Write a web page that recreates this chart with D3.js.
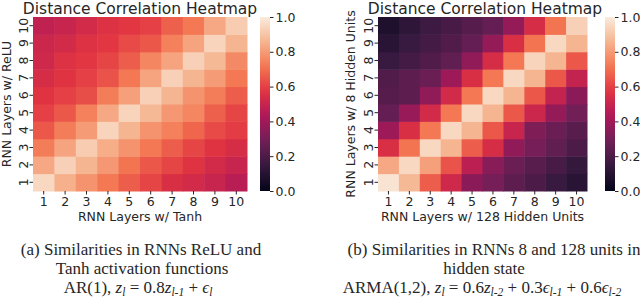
<!DOCTYPE html>
<html>
<head>
<meta charset="utf-8">
<script src="https://cdn.jsdelivr.net/npm/d3@7"></script>
<style>
  body { margin: 0; background: #fff; }
  svg { display: block; }
  text { fill: #262626; }
</style>
</head>
<body>
<div id="chart"></div>
<script>
// layer labels on both axes
var layers = ["1", "2", "3", "4", "5", "6", "7", "8", "9", "10"];
var cbarTicks = [0, 0.2, 0.4, 0.6, 0.8, 1.0];

// (a) rows = ReLU layer 1..10 (bottom to top), cols = Tanh layer 1..10
var reluTanh = [
  [0.95, 0.85, 0.78, 0.72, 0.66, 0.61, 0.55, 0.53, 0.50, 0.46],
  [0.83, 0.93, 0.86, 0.79, 0.71, 0.65, 0.61, 0.57, 0.53, 0.50],
  [0.73, 0.82, 0.92, 0.84, 0.78, 0.72, 0.66, 0.61, 0.57, 0.54],
  [0.65, 0.73, 0.80, 0.94, 0.86, 0.78, 0.74, 0.68, 0.62, 0.59],
  [0.60, 0.65, 0.74, 0.83, 0.94, 0.87, 0.79, 0.75, 0.67, 0.61],
  [0.57, 0.60, 0.63, 0.73, 0.81, 0.93, 0.86, 0.78, 0.73, 0.66],
  [0.54, 0.57, 0.60, 0.64, 0.72, 0.82, 0.93, 0.86, 0.80, 0.72],
  [0.52, 0.56, 0.58, 0.61, 0.66, 0.75, 0.82, 0.93, 0.87, 0.76],
  [0.51, 0.53, 0.56, 0.58, 0.62, 0.65, 0.74, 0.82, 0.94, 0.86],
  [0.48, 0.50, 0.53, 0.56, 0.58, 0.60, 0.67, 0.72, 0.83, 0.92]
];

// (b) rows = 8 hidden units layer 1..10, cols = 128 hidden units layer 1..10
var units8x128 = [
  [0.98, 0.87, 0.66, 0.52, 0.35, 0.30, 0.24, 0.20, 0.15, 0.11],
  [0.83, 0.95, 0.81, 0.64, 0.47, 0.34, 0.27, 0.23, 0.19, 0.14],
  [0.55, 0.71, 0.95, 0.86, 0.66, 0.54, 0.36, 0.30, 0.25, 0.20],
  [0.39, 0.55, 0.72, 0.95, 0.86, 0.65, 0.50, 0.32, 0.27, 0.23],
  [0.26, 0.38, 0.53, 0.72, 0.95, 0.86, 0.65, 0.51, 0.37, 0.29],
  [0.22, 0.24, 0.36, 0.53, 0.72, 0.95, 0.86, 0.65, 0.49, 0.35],
  [0.21, 0.24, 0.27, 0.39, 0.55, 0.72, 0.95, 0.86, 0.65, 0.49],
  [0.15, 0.18, 0.21, 0.25, 0.36, 0.54, 0.72, 0.94, 0.86, 0.65],
  [0.11, 0.15, 0.18, 0.21, 0.26, 0.37, 0.55, 0.71, 0.95, 0.86],
  [0.08, 0.12, 0.16, 0.19, 0.22, 0.26, 0.37, 0.54, 0.71, 0.93]
];

var width = 640, height = 299;
var font = "'DejaVu Sans', sans-serif";

// seaborn "rocket" colormap, piecewise linear
var rocket = d3.scaleLinear()
  .domain([0, 1/7, 2/7, 3/7, 4/7, 5/7, 6/7, 1])
  .range(["#03051a", "#35193e", "#701f57", "#ad1759", "#e13342", "#f37651", "#f6b48f", "#faebdd"])
  .clamp(true);

var svg = d3.select("#chart").append("svg")
  .attr("width", width)
  .attr("height", height);

// one gradient for both colour bars
var grad = svg.append("defs").append("linearGradient")
  .attr("id", "rocketGrad")
  .attr("x1", 0).attr("y1", 1).attr("x2", 0).attr("y2", 0);
d3.range(0, 1.0001, 0.05).forEach(function(t) {
  grad.append("stop").attr("offset", t).attr("stop-color", rocket(t));
});

function make_heatmap(opt) {
  var g = svg.append("g");

  var x = d3.scaleBand().domain(layers).range([opt.x0, opt.x1]);
  var y = d3.scaleBand().domain(layers).range([opt.y1, opt.y0]);

  // cells
  opt.data.forEach(function(row, i) {
    g.selectAll(null)
      .data(row)
      .enter()
      .append("rect")
      .attr("x", function(d, j) { return x(layers[j]); })
      .attr("y", y(layers[i]))
      .attr("width", x.bandwidth() + 0.5)
      .attr("height", y.bandwidth() + 0.5)
      .attr("fill", function(d) { return rocket(d); });
  });

  // x axis
  var xa = g.append("g")
    .attr("transform", "translate(0," + opt.y1 + ")")
    .call(d3.axisBottom(x).tickSize(3.5).tickPadding(2.5));
  xa.select(".domain").remove();
  xa.selectAll("line").attr("stroke", "#262626");
  xa.selectAll("text")
    .attr("font-family", font).attr("font-size", "12.5px").attr("fill", "#262626");

  // y axis, labels rotated
  var ya = g.append("g")
    .attr("transform", "translate(" + opt.x0 + ",0)")
    .call(d3.axisLeft(y).tickSize(3.5));
  ya.select(".domain").remove();
  ya.selectAll("line").attr("stroke", "#262626");
  ya.selectAll("text")
    .attr("x", 0).attr("dy", null)
    .attr("text-anchor", "middle")
    .attr("transform", "translate(-5,0) rotate(-90)")
    .attr("font-family", font).attr("font-size", "12.5px").attr("fill", "#262626");

  // colour bar
  g.append("rect")
    .attr("x", opt.cx)
    .attr("y", opt.y0)
    .attr("width", 10)
    .attr("height", opt.y1 - opt.y0)
    .attr("fill", "url(#rocketGrad)");
  var c = d3.scaleLinear().domain([0, 1]).range([opt.y1, opt.y0]);
  var ca = g.append("g")
    .attr("transform", "translate(" + (opt.cx + 10) + ",0)")
    .call(d3.axisRight(c).tickValues(cbarTicks).tickFormat(d3.format(".1f"))
      .tickSize(3.5).tickPadding(2));
  ca.select(".domain").remove();
  ca.selectAll("line").attr("stroke", "#262626");
  ca.selectAll("text")
    .attr("font-family", font).attr("font-size", "12.5px").attr("fill", "#262626");

  var mid = (opt.x0 + opt.x1) / 2;
  // title
  g.append("text")
    .attr("x", opt.tx)
    .attr("y", 14)
    .attr("text-anchor", "middle")
    .attr("font-family", font)
    .attr("font-size", "15.5px")
    .text("Distance Correlation Heatmap");
  // axis labels
  g.append("text")
    .attr("x", mid)
    .attr("y", 221)
    .attr("text-anchor", "middle")
    .attr("font-family", font)
    .attr("font-size", "12.5px")
    .text(opt.xlabel);
  g.append("text")
    .attr("transform", "translate(" + opt.lx + "," + ((opt.y0 + opt.y1) / 2) + ") rotate(-90)")
    .attr("text-anchor", "middle")
    .attr("font-family", font)
    .attr("font-size", "12.5px")
    .text(opt.ylabel);
}

make_heatmap({
  data: reluTanh, x0: 33, x1: 247, y0: 17, y1: 191, cx: 260, tx: 140, lx: 11,
  xlabel: "RNN Layers w/ Tanh", ylabel: "RNN Layers w/ ReLU"
});
make_heatmap({
  data: units8x128, x0: 378, x1: 587, y0: 17, y1: 191, cx: 605, tx: 485, lx: 355,
  xlabel: "RNN Layers w/ 128 Hidden Units", ylabel: "RNN Layers w/ 8 Hidden Units"
});

// captions (LaTeX style)
var serif = "'Liberation Serif', 'DejaVu Serif', serif";
function caption(x, y, parts) {
  var t = svg.append("text")
    .attr("x", x).attr("y", y)
    .attr("text-anchor", "middle")
    .attr("font-family", serif)
    .attr("font-size", "17px")
    .attr("fill", "#111");
  parts.forEach(function(p) {
    var s = t.append("tspan").text(p[0]);
    if (p[1] === "i") s.attr("font-style", "italic");
    if (p[1] === "sub") s.attr("font-style", "italic").attr("font-size", "11.5px").attr("baseline-shift", "-25%");
  });
}

caption(141, 255, [["(a) Similarities in RNNs ReLU and"]]);
caption(142, 274, [["Tanh activation functions"]]);
caption(138, 293, [["AR(1),  "], ["z", "i"], ["l", "sub"], [" = 0.8"], ["z", "i"], ["l-1", "sub"], [" + "], ["\u03f5", "i"], ["l", "sub"]]);

caption(494, 255, [["(b) Similarities in RNNs 8 and 128 units in"]]);
caption(484, 274, [["hidden state"]]);
caption(482, 293, [["ARMA(1,2),  "], ["z", "i"], ["l", "sub"], [" = 0.6"], ["z", "i"], ["l-2", "sub"],
  [" + 0.3"], ["\u03f5", "i"], ["l-1", "sub"], [" + 0.6"], ["\u03f5", "i"], ["l-2", "sub"]]);
</script>
</body>
</html>
